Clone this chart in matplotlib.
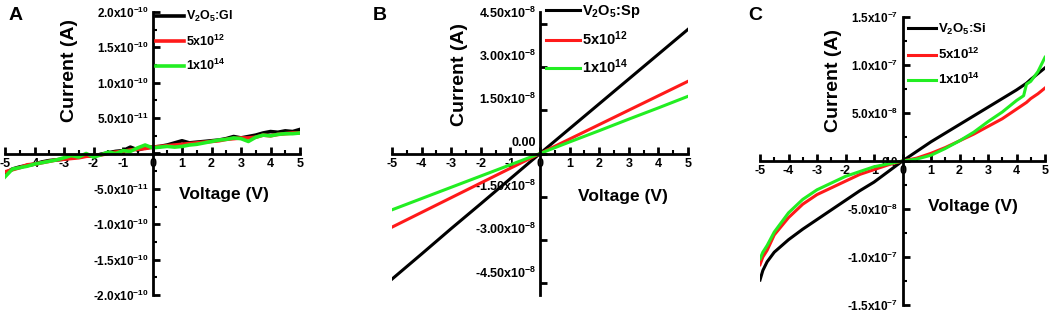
import numpy as np
import matplotlib
matplotlib.use("Agg")
import matplotlib.pyplot as plt
from matplotlib.ticker import FixedLocator, MultipleLocator, FuncFormatter
from matplotlib.transforms import ScaledTranslation

plt.rcParams['font.family'] = ['Liberation Sans', 'DejaVu Sans']
plt.rcParams['font.weight'] = 'bold'
plt.rcParams['mathtext.fontset'] = 'custom'
plt.rcParams['mathtext.bf'] = 'Liberation Sans:bold'
plt.rcParams['mathtext.rm'] = 'Liberation Sans:bold'
plt.rcParams['mathtext.default'] = 'bf'
plt.rcParams['axes.unicode_minus'] = False

# ---- panel A (V2O5:Gl), current in units of 1e-11 A ----
volt_a = np.arange(-5, 5.01, 0.25)
gl_black = [-2.8, -2.2, -1.9, -1.7, -1.5, -1.2, -1.0, -0.9, -0.8, -0.6, -0.5, -0.3, -0.4,
            -0.1, 0.1, 0.3, 0.4, 0.9, 0.5, 0.8, 0.9, 1.0, 1.2, 1.5, 1.8, 1.5, 1.6, 1.7,
            1.8, 1.9, 2.1, 2.4, 2.2, 2.4, 2.6, 2.9, 3.1, 3.0, 3.2, 3.1, 3.4]
gl_red = [-2.6, -2.3, -2.0, -1.6, -1.5, -1.3, -1.1, -0.9, -0.8, -0.7, -0.6, -0.4, -0.3,
          -0.2, 0.0, 0.2, 0.3, 0.5, 0.6, 0.7, 0.9, 1.0, 1.1, 1.2, 1.3, 1.4, 1.5, 1.6,
          1.7, 1.8, 2.0, 2.1, 2.2, 2.2, 2.3, 2.6, 2.5, 2.7, 2.8, 2.9, 2.9]
gl_green = [-3.3, -2.2, -2.0, -1.8, -1.5, -1.3, -1.1, -0.9, -0.6, -0.3, -0.5, 0.0, -0.5,
            -0.2, 0.2, 0.0, 0.4, 0.3, 0.8, 1.2, 0.8, 0.9, 1.0, 0.9, 1.0, 1.2, 1.3, 1.5,
            1.7, 1.9, 2.0, 2.2, 2.1, 1.7, 2.3, 2.6, 2.5, 2.7, 2.8, 2.8, 2.9]

# ---- panel B (V2O5:Sp), current in units of 1e-8 A ----
volt_b = [-5, -4, -3, -2, -1, 0, 1, 2, 3, 4, 5]
sp_black = [-4.35, -3.48, -2.6, -1.74, -0.87, 0.0, 0.86, 1.72, 2.58, 3.44, 4.3]
sp_red = [-2.55, -2.04, -1.53, -1.02, -0.51, 0.0, 0.5, 1.0, 1.5, 2.0, 2.5]
sp_green = [-1.95, -1.56, -1.17, -0.78, -0.39, 0.0, 0.4, 0.79, 1.19, 1.58, 1.98]

# ---- panel C (V2O5:Si), current in units of 1e-8 A ----
volt_c = [-5, -4.9, -4.75, -4.5, -4, -3.5, -3, -2.5, -2, -1.5, -1, -0.5, 0,
          0.5, 1, 1.5, 2, 2.5, 3, 3.5, 4, 4.25, 4.35, 4.5, 4.75, 5]
si_black = [-12.4, -11.4, -10.5, -9.5, -8.2, -7.1, -6.1, -5.1, -4.1, -3.1, -2.2, -1.1, 0,
            1.0, 2.0, 2.9, 3.8, 4.7, 5.6, 6.5, 7.4, 7.9, 8.1, 8.5, 9.1, 9.7]
si_red = [-10.8, -10.0, -9.3, -7.7, -5.9, -4.5, -3.5, -2.8, -2.1, -1.4, -0.9, -0.4, 0,
          0.3, 0.8, 1.4, 2.1, 2.8, 3.6, 4.4, 5.4, 5.9, 6.1, 6.5, 7.0, 7.6]
si_green = [-10.2, -9.5, -8.8, -7.4, -5.4, -4.0, -3.0, -2.3, -1.6, -1.1, -0.6, -0.3, 0,
            0.2, 0.6, 1.3, 2.1, 3.0, 4.1, 5.1, 6.3, 6.8, 8.0, 8.3, 9.3, 10.8]

W, H = 1052, 312
fig = plt.figure(figsize=(W / 100, H / 100), dpi=100)


def px_axes(x0, x1, ytop, ybot):
    return fig.add_axes([x0 / W, 1 - ybot / H, (x1 - x0) / W, (ybot - ytop) / H])


def sci_fmt(decimals, show_zero=True):
    def f(v, pos):
        if abs(v) < 1e-15:
            return ('0.' + '0' * decimals) if show_zero else ''
        e = int(np.floor(np.log10(abs(v)) + 1e-9))
        m = v / 10 ** e
        return ('%.' + str(decimals) + 'f') % m + 'x10$^{' + str(e) + '}$'
    return f


def setup(ax, ylim, yticks, yminor, decimals, tick_fs, show_zero=True):
    ax.set_xlim(-5, 5)
    ax.set_ylim(*ylim)
    for s in ['top', 'right']:
        ax.spines[s].set_visible(False)
    ax.spines['left'].set_position(('data', 0))
    ax.spines['bottom'].set_position(('data', 0))
    ax.spines['left'].set_linewidth(2)
    ax.spines['bottom'].set_linewidth(2)
    ax.xaxis.set_major_locator(MultipleLocator(1))
    ax.xaxis.set_minor_locator(MultipleLocator(0.5))
    ax.yaxis.set_major_locator(FixedLocator(yticks))
    if yminor is not None:
        ax.yaxis.set_minor_locator(FixedLocator(yminor))
    ax.yaxis.set_major_formatter(FuncFormatter(sci_fmt(decimals, show_zero)))
    ax.xaxis.set_major_formatter(FuncFormatter(lambda v, p: '%d' % round(v)))
    ax.tick_params(which='major', direction='in', length=5, width=2, labelsize=tick_fs, pad=3)
    ax.tick_params(which='minor', direction='in', length=3, width=1.5)
    ax.tick_params(axis='x', labelsize=9)
    ax.patch.set_alpha(0)


lw = 2.6

# panel A
axA = px_axes(5, 300, 12, 295)
setup(axA, (-2e-10, 2e-10), np.arange(-2e-10, 2.01e-10, 5e-11),
      np.arange(-1.75e-10, 1.8e-10, 5e-11), 1, 8.5, show_zero=False)
sc = 1e-11
axA.plot(volt_a, np.array(gl_black) * sc, color='black', lw=lw, label='V$_2$O$_5$:Gl')
axA.plot(volt_a, np.array(gl_red) * sc, color='#ff1a1a', lw=lw, label='5x10$^{12}$')
axA.plot(volt_a, np.array(gl_green) * sc, color='#22ee22', lw=lw, label='1x10$^{14}$')
axA.legend(loc='upper left', bbox_to_anchor=(156 / W, 1 - 9 / H), bbox_transform=fig.transFigure,
           frameon=False, fontsize=9, handlelength=2.2, handletextpad=0.2, labelspacing=0.75,
           borderpad=0, borderaxespad=0)

# panel B
axB = px_axes(392, 688, 12, 295)
setup(axB, (-4.9e-8, 4.9e-8), np.arange(-4.5e-8, 4.6e-8, 1.5e-8), None, 2, 9)
off = ScaledTranslation(0, 0.12, fig.dpi_scale_trans)
for lab in axB.get_yticklabels():
    lab.set_transform(lab.get_transform() + off)
sc = 1e-8
axB.plot(volt_b, np.array(sp_black) * sc, color='black', lw=2.2, label='V$_2$O$_5$:Sp')
axB.plot(volt_b, np.array(sp_red) * sc, color='#ff1a1a', lw=2.2, label='5x10$^{12}$')
axB.plot(volt_b, np.array(sp_green) * sc, color='#22ee22', lw=2.2, label='1x10$^{14}$')
axB.legend(loc='upper left', bbox_to_anchor=(546 / W, 1 - 3 / H), bbox_transform=fig.transFigure,
           frameon=False, fontsize=10.5, handlelength=2.3, handletextpad=0.2, labelspacing=0.65,
           borderpad=0, borderaxespad=0)

# panel C
axC = px_axes(760, 1045, 17, 305)
setup(axC, (-1.5e-7, 1.5e-7), np.arange(-1.5e-7, 1.51e-7, 5e-8),
      np.arange(-1.25e-7, 1.3e-7, 5e-8), 1, 8.5)
sc = 1e-8
axC.plot(volt_c, np.array(si_black) * sc, color='black', lw=2.2, label='V$_2$O$_5$:Si')
axC.plot(volt_c, np.array(si_red) * sc, color='#ff1a1a', lw=2.2, label='5x10$^{12}$')
axC.plot(volt_c, np.array(si_green) * sc, color='#22ee22', lw=2.2, label='1x10$^{14}$')
axC.legend(loc='upper left', bbox_to_anchor=(908 / W, 1 - 22 / H), bbox_transform=fig.transFigure,
           frameon=False, fontsize=9.5, handlelength=2.1, handletextpad=0.2, labelspacing=0.75,
           borderpad=0, borderaxespad=0)

# axis titles and panel letters
for x, y in [(70, 70), (460, 75), (834, 80)]:
    fig.text(x / W, 1 - y / H, 'Current (A)', rotation=90, ha='center', va='center',
             fontsize=14, fontweight='bold')
for x, y in [(224, 195), (623, 197), (973, 207)]:
    fig.text(x / W, 1 - y / H, 'Voltage (V)', ha='center', va='center',
             fontsize=12.5, fontweight='bold')
for x, y, t in [(16, 15, 'A'), (380, 15, 'B'), (755, 15, 'C')]:
    fig.text(x / W, 1 - y / H, t, ha='center', va='center', fontsize=14, fontweight='bold')

fig.savefig('out.png', dpi=100)
